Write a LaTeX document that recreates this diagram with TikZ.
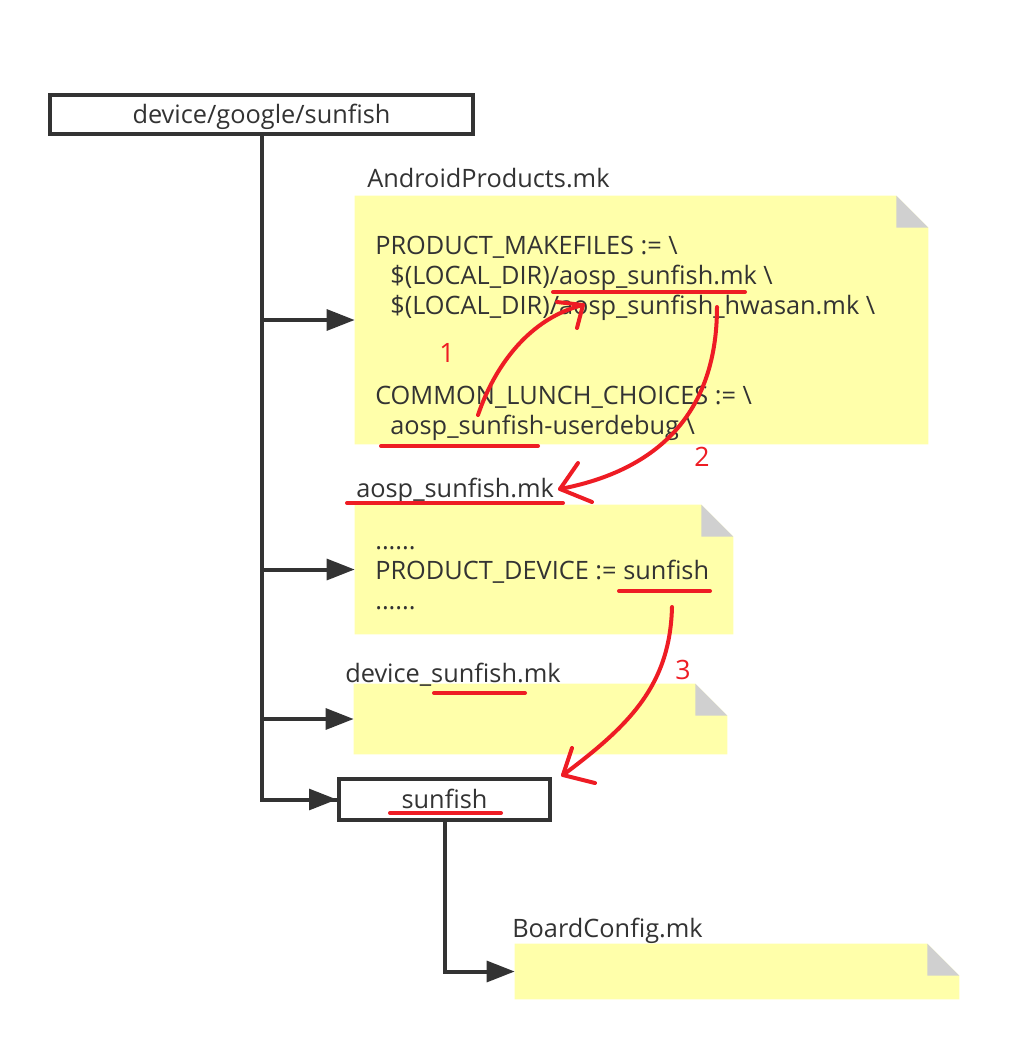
\documentclass[tikz,border=0pt]{standalone}
\usepackage{fontspec}
\setmainfont{Open Sans}
\usetikzlibrary{arrows.meta,calc}
\definecolor{ink}{HTML}{333333}
\definecolor{noteyellow}{HTML}{FFFFAA}
\definecolor{foldgray}{HTML}{D0D0D0}
\definecolor{mark}{HTML}{EE1C24}
\newcommand{\mknote}[1]{%
  \fill[noteyellow] (#1.north west) -- ([xshift=-24pt]#1.north east) -- ([yshift=-24pt]#1.north east) -- (#1.south east) -- (#1.south west) -- cycle;
  \fill[foldgray] ([xshift=-24pt]#1.north east) -- ([xshift=-24pt,yshift=-24pt]#1.north east) -- ([yshift=-24pt]#1.north east) -- cycle;}
\begin{document}
\begin{tikzpicture}[x=0.75pt,y=-0.75pt,
  txt/.style={anchor=base west,inner sep=0,text=ink,font=\fontsize{19}{23}\selectfont},
  boxnode/.style={draw=ink,line width=3pt,inner sep=0,text=ink,text height=14pt,text depth=0pt,font=\fontsize{19}{23}\selectfont},
  notenode/.style={inner sep=0,draw=none},
  conn/.style={draw=ink,line width=3pt},
  arr/.style={conn,-{Triangle[length=21pt,width=15.5pt]}},
  redline/.style={draw=mark,line width=3pt,line cap=round,line join=round},
  num/.style={text=mark,inner sep=0,font=\fontsize{20}{24}\selectfont}]
\fill[white] (0,0) rectangle (1011,1046);
\useasboundingbox (0,0) rectangle (1011,1046);

% notes
\node[notenode,minimum width=429.75pt,minimum height=186pt] (n1) at (641.5,320) {};
\node[notenode,minimum width=283.5pt,minimum height=96.75pt] (n2) at (544,569.5) {};
\node[notenode,minimum width=279.75pt,minimum height=52.5pt] (n3) at (540.5,719) {};
\node[notenode,minimum width=333pt,minimum height=41.25pt] (n4) at (737,971.5) {};
\mknote{n1}\mknote{n2}\mknote{n3}\mknote{n4}

% boxes
\node[boxnode,minimum width=317.25pt,minimum height=29.25pt] (top) at (261.5,114.5) {device/google/sunfish};
\node[boxnode,minimum width=158.25pt,minimum height=30.75pt] (sf) at (444.5,799.5) {sunfish};

% labels
\node[txt] (l1) at (367,187) {AndroidProducts.mk};
\node[txt] (l2) at (356,497) {aosp\_sunfish.mk};
\node[txt] (l3) at (345,682) {device\_sunfish.mk};
\node[txt] (l4) at (512,937) {BoardConfig.mk};

% note texts
\node[txt] (a1) at (375,254) {PRODUCT\_MAKEFILES := \textbackslash};
\node[txt] (a2) at (390,284) {\$(LOCAL\_DIR)/aosp\_sunfish.mk \textbackslash};
\node[txt] (a3) at (390,314) {\$(LOCAL\_DIR)/aosp\_sunfish\_hwasan.mk \textbackslash};
\node[txt] (a4) at (375,404) {COMMON\_LUNCH\_CHOICES := \textbackslash};
\node[txt] (a5) at (390,434) {aosp\_sunfish-userdebug \textbackslash};
\node[txt] (b1) at (375,549) {......};
\node[txt] (b2) at (375,579) {PRODUCT\_DEVICE := sunfish};
\node[txt] (b3) at (375,609) {......};

% tree connectors
\draw[conn] (top.south) |- (sf.west);
\draw[arr] (top.south |- n1.west) -- (n1.west);
\draw[arr] (top.south |- n2.west) -- (n2.west);
\draw[arr] (top.south |- n3.west) -- (n3.west);
\draw[arr] (top.south |- sf.west) -- (sf.west);
\draw[arr] (sf.south) |- (n4.west);

% red annotations
\draw[redline] (553,292) -- (745,292);
\draw[redline] (381,446) -- (538,446);
\draw[redline] (347,503) -- (563,503);
\draw[redline] (619,591) -- (710,591);
\draw[redline] (434,693) -- (525,693);
\draw[redline] (390,813) -- (501,813);

\coordinate (s1) at (478,415); \coordinate (t1) at (583,305);
\draw[redline] (s1) .. controls (495,365) and (530,318) .. (t1);
\draw[redline] (557,302) -- (t1) -- (577,328);
\node[num] (k1) at (447,353) {1};

\coordinate (s2) at (717,307); \coordinate (t2) at (560,489);
\draw[redline] (s2) .. controls (717,420) and (650,472) .. (t2);
\draw[redline] (578,463) -- (t2) -- (592,502);
\node[num] (k2) at (702,457) {2};

\coordinate (s3) at (672,607); \coordinate (t3) at (563,775);
\draw[redline] (s3) .. controls (670,685) and (630,725) .. (t3);
\draw[redline] (572,748) -- (t3) -- (595,783);
\node[num] (k3) at (683,670) {3};
\end{tikzpicture}
\end{document}
